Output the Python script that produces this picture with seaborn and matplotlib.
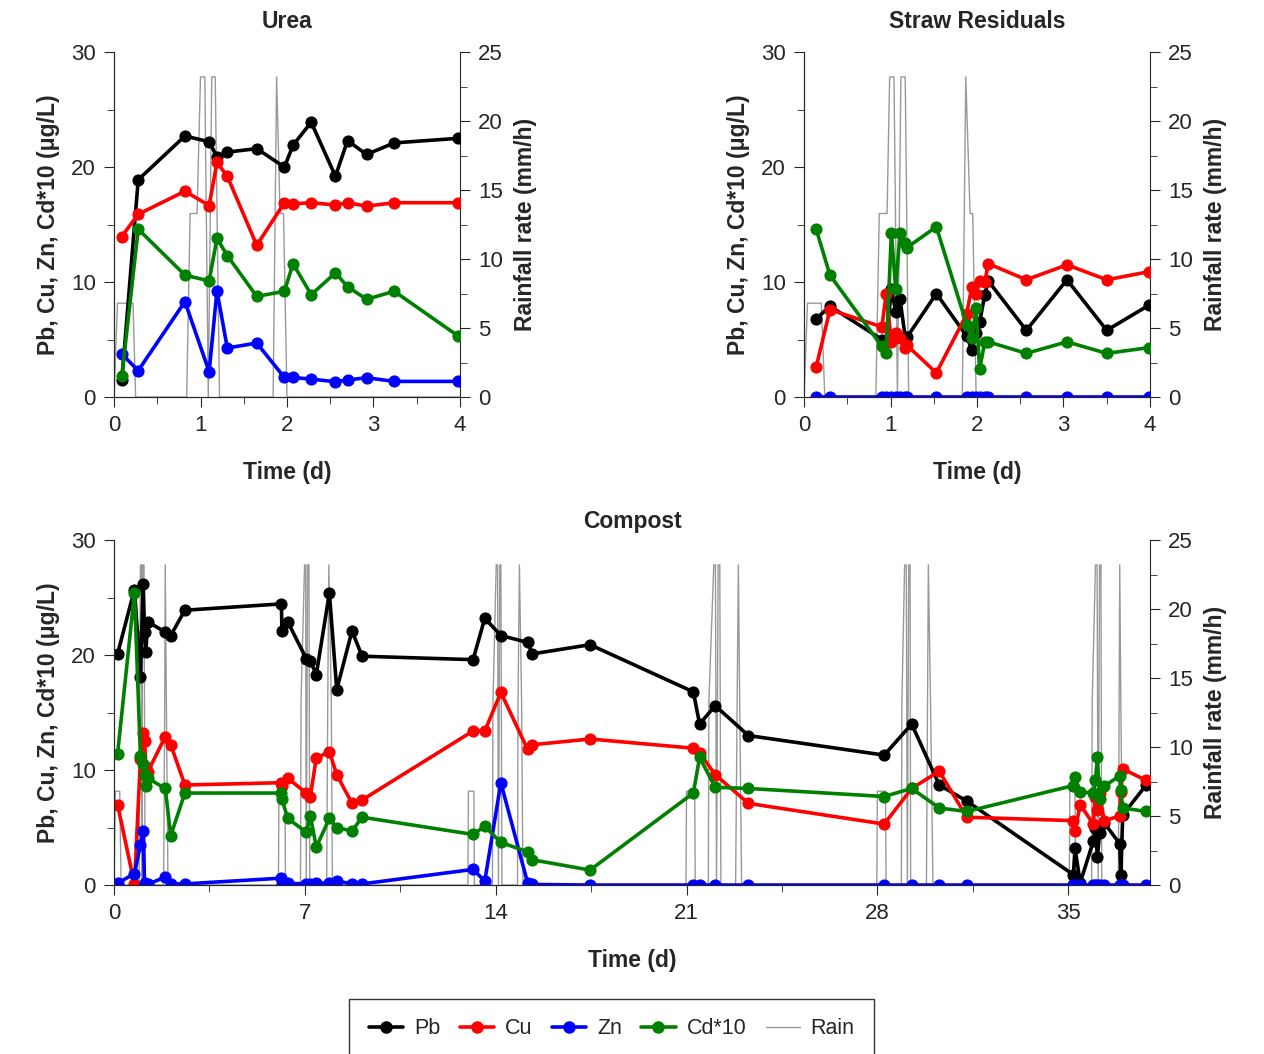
import matplotlib
matplotlib.use('Agg')
import matplotlib.pyplot as plt
import seaborn as sns

sns.set_style('ticks')
plt.rcParams['font.family'] = ['Liberation Sans', 'DejaVu Sans']

# ── Urea ──
t_urea = [0.09, 0.28, 0.82, 1.10, 1.19, 1.31, 1.65, 1.97, 2.07, 2.28, 2.56, 2.70, 2.92, 3.24, 3.98]
pb_urea = [1.45, 18.9, 22.7, 22.2, 20.9, 21.3, 21.6, 20.0, 21.9, 23.9, 19.2, 22.3, 21.1, 22.1, 22.5]
cu_urea = [13.96, 15.9, 17.9, 16.65, 20.4, 19.2, 13.2, 16.9, 16.8, 16.9, 16.7, 16.9, 16.6, 16.9, 16.9]
zn_urea = [3.74, 2.3, 8.3, 2.2, 9.24, 4.26, 4.7, 1.7, 1.7, 1.56, 1.33, 1.48, 1.68, 1.36, 1.36]
cd_urea = [1.8, 14.6, 10.6, 10.1, 13.8, 12.3, 8.75, 9.2, 11.6, 8.9, 10.8, 9.6, 8.5, 9.2, 5.3]
rain_t_urea = [0, 0.04, 0.22, 0.25, 0.84, 0.88, 0.96, 1.0, 1.05, 1.09, 1.13, 1.17, 1.22,
               1.84, 1.88, 1.92, 1.96, 2.0, 4.0]
rain_urea = [0, 6.8, 6.8, 0, 0, 13.3, 13.3, 23.2, 23.2, 0, 23.2, 23.2, 0,
             0, 23.2, 13.3, 13.3, 0, 0]

# ── Straw Residuals ──
t_straw = [0.14, 0.30, 0.90, 0.95, 1.01, 1.06, 1.11, 1.17, 1.19, 1.53, 1.88, 1.94, 1.99, 2.03,
           2.09, 2.13, 2.57, 3.04, 3.50, 3.99]
pb_straw = [6.8, 7.9, 5.0, 4.8, 9.4, 7.4, 8.5, 5.2, 5.2, 9.0, 5.3, 4.1, 5.6, 6.5, 8.9, 10.1, 5.8, 10.2, 5.8, 8.0]
cu_straw = [2.6, 7.6, 6.1, 9.0, 4.8, 5.6, 5.1, 4.3, 4.5, 2.1, 7.2, 9.6, 9.0, 10.1, 10.0, 11.6, 10.2, 11.5, 10.2, 10.9]
zn_straw = [0] * 20
cd_straw = [14.6, 10.6, 4.4, 3.8, 14.3, 9.4, 14.3, 13.4, 13.0, 14.8, 6.3, 5.1, 7.7, 2.4, 4.8, 4.8, 3.8, 4.8, 3.8, 4.3]
rain_t_straw = [0, 0.04, 0.20, 0.24, 0.83, 0.87, 0.96, 0.99, 1.04, 1.08, 1.12, 1.17, 1.21,
                1.83, 1.87, 1.92, 1.95, 1.99, 4.0]
rain_straw = [0, 6.8, 6.8, 0, 0, 13.3, 13.3, 23.2, 23.2, 0, 23.2, 23.2, 0,
              0, 23.2, 13.3, 13.3, 0, 0]

# ── Compost ──
t_comp = [0.13, 0.75, 0.97, 1.07, 1.12, 1.17, 1.23, 1.88, 2.08, 2.6, 6.14, 6.16, 6.37, 7.05, 7.2,
          7.42, 7.9, 8.17, 8.73, 9.1, 13.17, 13.6, 14.19, 15.17, 15.34, 17.46, 21.25, 21.48, 22.05,
          23.27, 28.25, 29.26, 30.27, 31.28, 35.19, 35.25, 35.44, 35.92, 36.0, 36.07, 36.15, 36.32,
          36.89, 36.93, 37.0, 37.86]
pb_comp = [20.1, 25.7, 18.1, 26.2, 22.0, 20.3, 22.9, 22.0, 21.7, 23.9, 24.45, 22.05, 22.9, 19.7, 19.5,
           18.3, 25.4, 17.0, 22.1, 19.9, 19.6, 23.2, 21.7, 21.1, 20.1, 20.9, 16.8, 14.0, 15.6,
           13.0, 11.3, 14.0, 8.7, 7.3, 0.9, 3.2, 0.2, 3.8, 5.0, 2.4, 4.5, 5.4,
           3.6, 0.9, 6.1, 8.7]
cu_comp = [7.0, 0.06, 11.0, 13.2, 12.5, 10.3, 9.8, 12.9, 12.2, 8.7, 8.9, 8.6, 9.3, 8.0, 7.7,
           11.05, 11.6, 9.6, 7.1, 7.4, 13.4, 13.4, 16.75, 11.8, 12.2, 12.7, 11.9, 11.5, 9.6,
           7.1, 5.3, 8.4, 9.9, 5.9, 5.6, 4.7, 7.0, 5.3, 7.7, 6.5, 8.0, 5.6,
           6.0, 8.1, 10.1, 9.1]
zn_comp = [0.15, 1.0, 3.5, 4.7, 0.2, 0.1, 0.05, 0.7, 0.1, 0.1, 0.6, 0.05, 0.15, 0.1, 0.1,
           0.2, 0.15, 0.35, 0.1, 0.1, 1.36, 0.35, 8.9, 0.2, 0.05, 0, 0, 0, 0,
           0, 0, 0, 0, 0, 0, 0, 0, 0, 0, 0, 0, 0,
           0, 0, 0, 0]
cd_comp = [11.4, 25.4, 11.2, 10.5, 9.6, 8.6, 9.3, 8.4, 4.3, 8.0, 8.0, 7.5, 5.8, 4.6, 6.0,
           3.3, 5.8, 5.0, 4.7, 5.9, 4.4, 5.1, 3.7, 2.9, 2.2, 1.3, 8.0, 11.1, 8.5,
           8.4, 7.7, 8.4, 6.7, 6.4, 8.65, 9.4, 8.1, 8.0, 9.1, 11.1, 7.5, 8.6,
           9.5, 8.3, 6.7, 6.4]
rain_t_comp = [0, 0.05, 0.21, 0.26,
               0.92, 0.94, 0.97, 1.0, 1.02, 1.05, 1.10, 1.14,
               1.82, 1.86, 1.88, 1.92, 1.98,
               6.03, 6.05, 6.27, 6.29,
               6.84, 6.86, 6.99, 7.03, 7.05, 7.10, 7.15, 7.18,
               7.80, 7.84, 7.88, 7.97, 8.01,
               12.98, 13.0, 13.2, 13.22,
               13.88, 13.90, 14.02, 14.07, 14.10, 14.15, 14.19, 14.23,
               14.80, 14.82, 14.87, 14.95, 15.0,
               20.98, 21.0, 21.3, 21.32,
               21.80, 21.82, 22.0, 22.06, 22.10, 22.16, 22.22, 22.26,
               22.80, 22.90, 22.95, 23.02,
               27.98, 28.0, 28.3, 28.32,
               28.88, 28.90, 29.0, 29.06, 29.10, 29.15, 29.20, 29.22,
               29.80, 29.87, 29.95, 30.04,
               35.04, 35.06, 35.25, 35.27,
               35.86, 35.88, 36.0, 36.06, 36.10, 36.15, 36.20, 36.23,
               36.84, 36.89, 36.93, 37.0, 38.0]
rain_comp = [0, 6.8, 6.8, 0,
             0, 13.3, 23.2, 23.2, 0, 23.2, 23.2, 0,
             0, 13.3, 23.2, 13.3, 0,
             0, 6.8, 6.8, 0,
             0, 13.3, 23.2, 23.2, 0, 23.2, 23.2, 0,
             0, 13.3, 23.2, 13.3, 0,
             0, 6.8, 6.8, 0,
             0, 13.3, 23.2, 23.2, 0, 23.2, 23.2, 0,
             0, 13.3, 23.2, 13.3, 0,
             0, 6.8, 6.8, 0,
             0, 13.3, 23.2, 23.2, 0, 23.2, 23.2, 0,
             0, 23.2, 13.3, 0,
             0, 6.8, 6.8, 0,
             0, 13.3, 23.2, 23.2, 0, 23.2, 23.2, 0,
             0, 23.2, 13.3, 0,
             0, 6.8, 6.8, 0,
             0, 13.3, 23.2, 23.2, 0, 23.2, 23.2, 0,
             0, 23.2, 13.3, 0, 0]

COLORS = {'Pb': 'black', 'Cu': '#ff0000', 'Zn': '#0000ff', 'Cd*10': '#008000'}
FS_TICK = 16
FS_LAB = 16.5

fig = plt.figure(figsize=(12.64, 10.54), dpi=100)
ax_u = fig.add_axes([0.0902, 0.6233, 0.2737, 0.3273])
ax_s = fig.add_axes([0.6361, 0.6233, 0.2737, 0.3273])
ax_c = fig.add_axes([0.0902, 0.1603, 0.8196, 0.3273])


def panel(ax, t, series, rt, rv, title, xlim, xticks, tpad):
    axr = ax.twinx()
    sns.lineplot(x=rt, y=rv, ax=axr, color='#999999', lw=1, sort=False, estimator=None)
    for name, vals in series.items():
        sns.lineplot(x=t, y=vals, ax=ax, color=COLORS[name], lw=2.6, marker='o', ms=8,
                     mec=COLORS[name], sort=False, estimator=None)
    ax.set_zorder(axr.get_zorder() + 1)
    ax.patch.set_visible(False)
    ax.set_xlim(*xlim)
    ax.set_ylim(0, 30)
    ax.set_yticks([0, 10, 20, 30])
    ax.set_yticks([5, 15, 25], minor=True)
    ax.set_xticks(xticks)
    axr.set_ylim(0, 25)
    axr.set_yticks([0, 5, 10, 15, 20, 25])
    axr.set_yticks([2.5, 7.5, 12.5, 17.5, 22.5], minor=True)
    for a in (ax, axr):
        a.spines['top'].set_visible(False)
        a.tick_params(labelsize=FS_TICK, length=7, direction='out', pad=6)
        a.tick_params(which='minor', length=5)
        a.set_xlabel('')
    ax.spines['right'].set_visible(False)
    ax.set_xlabel('Time (d)', fontsize=FS_LAB, fontweight='bold', labelpad=18)
    ax.set_ylabel('Pb, Cu, Zn, Cd*10 (μg/L)', fontsize=FS_LAB, fontweight='bold', labelpad=8)
    axr.set_ylabel('Rainfall rate (mm/h)', fontsize=FS_LAB, fontweight='bold', labelpad=8)
    ax.set_title(title, fontsize=FS_LAB, fontweight='bold', pad=tpad)
    return axr


panel(ax_u, t_urea, {'Pb': pb_urea, 'Cu': cu_urea, 'Zn': zn_urea, 'Cd*10': cd_urea},
      rain_t_urea, rain_urea, 'Urea', (0, 4), [0, 1, 2, 3, 4], 17)
ax_u.set_xticks([0.5, 1.5, 2.5, 3.5], minor=True)
panel(ax_s, t_straw, {'Pb': pb_straw, 'Cu': cu_straw, 'Zn': zn_straw, 'Cd*10': cd_straw},
      rain_t_straw, rain_straw, 'Straw Residuals', (0, 4), [0, 1, 2, 3, 4], 17)
ax_s.set_xticks([0.5, 1.5, 2.5, 3.5], minor=True)
panel(ax_c, t_comp, {'Pb': pb_comp, 'Cu': cu_comp, 'Zn': zn_comp, 'Cd*10': cd_comp},
      rain_t_comp, rain_comp, 'Compost', (0, 38), [0, 7, 14, 21, 28, 35], 9)
ax_c.set_xticks([3.5, 10.5, 17.5, 24.5, 31.5], minor=True)

handles = [plt.Line2D([], [], color=c, lw=2.6, marker='o', ms=8) for c in COLORS.values()]
handles.append(plt.Line2D([], [], color='#999999', lw=1))
labels = list(COLORS.keys()) + ['Rain']
leg = fig.legend(handles, labels, loc='center', bbox_to_anchor=(0.484, 0.024), ncol=5,
                 fontsize=15.5, frameon=True, fancybox=False, edgecolor='black',
                 handlelength=1.6, handletextpad=0.5, columnspacing=0.9, borderpad=0.9)
leg.get_frame().set_linewidth(1)

fig.savefig('out.png', dpi=100)
